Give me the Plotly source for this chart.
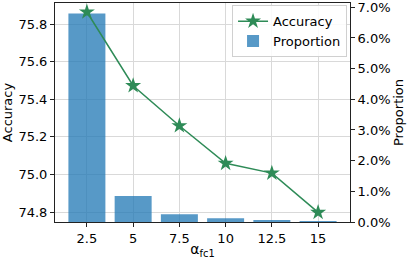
import plotly.graph_objects as go

categories = ["2.5", "5", "7.5", "10", "12.5", "15"]
accuracy = [75.864, 75.472, 75.259, 75.059, 75.007, 74.798]
proportion = [0.068, 0.0085, 0.0025, 0.0012, 0.00065, 0.0003]
left_ticks = [74.8, 75.0, 75.2, 75.4, 75.6, 75.8]
right_ticks = [0.0, 0.01, 0.02, 0.03, 0.04, 0.05, 0.06, 0.07]

FONT = "DejaVu Sans"
fig = go.Figure()
fig.add_trace(go.Scatter(
    x=categories, y=accuracy, yaxis="y2", name="Accuracy",
    mode="lines+markers",
    line=dict(color="#2e8b57", width=1.5),
    marker=dict(symbol="star", size=12, color="#2e8b57"),
))
fig.add_trace(go.Bar(
    x=categories, y=proportion, yaxis="y", name="Proportion",
    marker=dict(color="rgba(31,119,180,0.75)", line=dict(width=0)),
    width=0.8,
))

axis_common = dict(
    showline=True, linecolor="#222", linewidth=1,
    ticks="outside", ticklen=4, tickcolor="#222",
    tickfont=dict(size=13, color="black", family=FONT),
    zeroline=False, automargin=False, ticklabeloverflow="allow",
)
fig.update_layout(
    width=407, height=259,
    margin=dict(l=55, r=57, t=3, b=37),
    plot_bgcolor="white", paper_bgcolor="white",
    font=dict(family=FONT, size=13, color="black"),
    showlegend=True,
    bargap=0.2,
    xaxis=dict(
        type="category", range=[-0.69, 5.69],
        showgrid=True, gridcolor="#d9d9d9", gridwidth=1,
        mirror=True,
        title=dict(text="α<sub>fc1</sub>", font=dict(size=14), standoff=3),
        **axis_common,
    ),
    yaxis=dict(
        side="right", range=[0, 0.0714],
        tickvals=right_ticks, tickformat=".1%",
        showgrid=False,
        title=dict(text="Proportion", font=dict(size=13), standoff=0),
        **axis_common,
    ),
    yaxis2=dict(
        overlaying="y", side="left", range=[74.747, 75.912],
        tickvals=left_ticks, tickformat=".1f",
        showgrid=True, gridcolor="#d9d9d9", gridwidth=1,
        title=dict(text="Accuracy", font=dict(size=13), standoff=2),
        **axis_common,
    ),
    legend=dict(
        x=0.99, y=0.99, xanchor="right", yanchor="top",
        bgcolor="rgba(255,255,255,0.85)", bordercolor="#d0d0d0", borderwidth=1,
        font=dict(size=13, family=FONT),
        tracegroupgap=0,
    ),
)
fig.write_html(
    "out.html",
    config={"displayModeBar": False},
    post_script="document.body.style.margin='0';document.body.style.overflow='hidden';",
)
